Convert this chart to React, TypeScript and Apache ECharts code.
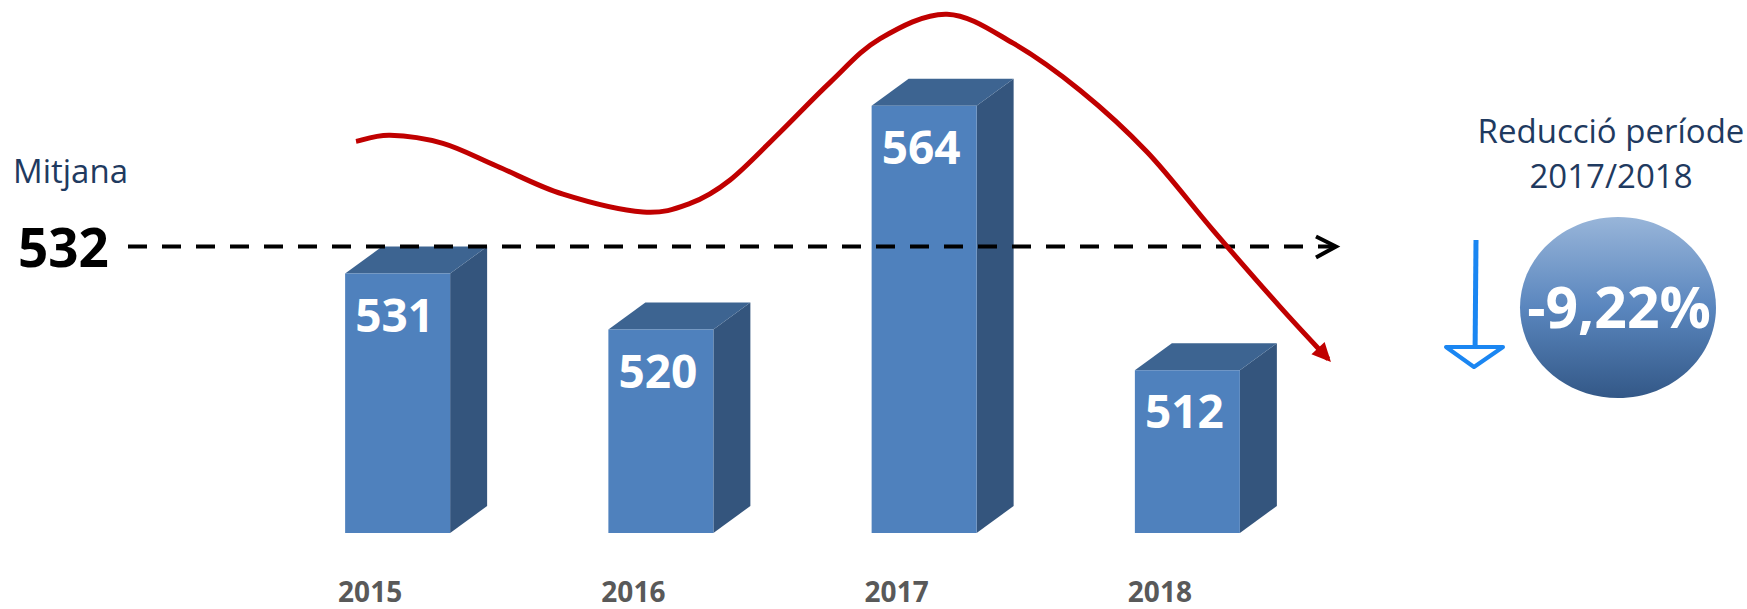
import React, { useEffect, useRef } from "react";
import * as echarts from "echarts";

const YEARS = ["2015", "2016", "2017", "2018"];
const VALUES = [531, 520, 564, 512];
// decorative trend curve (x in category-index units, y in value units)
const TREND_X = [-0.158, -0.029, 0.172, 0.378, 0.628, 0.932, 1.111, 1.263, 1.453, 1.643, 1.833, 2.087, 2.338, 2.593, 2.847, 3.098, 3.353, 3.535];
const TREND_Y = [557.0, 558.2, 556.6, 552.1, 546.6, 543.1, 544.8, 549.4, 558.8, 568.6, 577.2, 582.0, 576.3, 567.0, 554.9, 539.5, 524.4, 514.2];

const Y_MIN = 480;
const Y_MAX = 584;
const FONT = "'Open Sans', 'Noto Sans', sans-serif";

const MEAN = Math.round(VALUES.reduce((a, b) => a + b, 0) / VALUES.length);
const CHANGE = ((VALUES[3] - VALUES[2]) / VALUES[2]) * 100;
const CHANGE_LABEL = CHANGE.toFixed(2).replace(".", ",") + "%";

export default function App() {
  const ref = useRef<HTMLDivElement>(null);
  useEffect(() => {
    if (!ref.current) return;
    const chart = echarts.init(ref.current, null, { renderer: "svg" });
    const BW = 105;
    const DX = 37;
    const DY = 27;
    const option: any = {
      animation: false,
      backgroundColor: "#ffffff",
      grid: { left: 266, width: 1053, top: 4, bottom: 76 },
      xAxis: [
        {
          type: "category",
          data: YEARS,
          axisLine: { show: false },
          axisTick: { show: false },
          axisLabel: {
            margin: 44,
            fontSize: 28,
            lineHeight: 28,
            fontWeight: "bold",
            fontFamily: FONT,
            color: "#595959",
            padding: [0, 55, 0, 0],
          },
          splitLine: { show: false },
        },
        { type: "value", min: -0.5, max: 3.5, show: false },
      ],
      yAxis: { type: "value", min: Y_MIN, max: Y_MAX, show: false, splitLine: { show: false } },
      series: [
        {
          type: "custom",
          xAxisIndex: 0,
          yAxisIndex: 0,
          z: 2,
          data: VALUES.map((v, i) => [i, v]),
          renderItem: (params: any, api: any) => {
            const idx = api.value(0);
            const val = api.value(1);
            const top = api.coord([idx, val]);
            const base = api.coord([idx, Y_MIN]);
            const x0 = top[0] - BW / 2;
            const y0 = top[1];
            const y1 = base[1];
            return {
              type: "group",
              children: [
                {
                  type: "polygon",
                  shape: { points: [[x0 + BW, y0], [x0 + BW + DX, y0 - DY], [x0 + BW + DX, y1 - DY], [x0 + BW, y1]] },
                  style: { fill: "#34557D" },
                },
                {
                  type: "polygon",
                  shape: { points: [[x0, y0], [x0 + DX, y0 - DY], [x0 + BW + DX, y0 - DY], [x0 + BW, y0]] },
                  style: { fill: "#3D6491" },
                },
                {
                  type: "rect",
                  shape: { x: x0, y: y0, width: BW, height: y1 - y0 },
                  style: { fill: "#4F81BD" },
                },
                {
                  type: "text",
                  x: top[0] - 3,
                  y: y0 + 40,
                  style: {
                    text: String(val),
                    fill: "#ffffff",
                    fontSize: 46,
                    fontWeight: "bold",
                    fontFamily: FONT,
                    align: "center",
                    verticalAlign: "middle",
                  },
                },
              ],
            };
          },
        },
        {
          // trend curve: Catmull-Rom spline through the read points, with an arrowhead
          type: "custom",
          xAxisIndex: 1,
          yAxisIndex: 0,
          z: 10,
          clip: false,
          data: [[0, Y_MIN]],
          renderItem: (params: any, api: any) => {
            const P = TREND_X.map((x, i) => api.coord([x, TREND_Y[i]]));
            const n = P.length;
            let d = `M${P[0][0]},${P[0][1]}`;
            for (let i = 0; i < n - 1; i++) {
              const p0 = P[Math.max(0, i - 1)];
              const p1 = P[i];
              const p2 = P[i + 1];
              const p3 = P[Math.min(n - 1, i + 2)];
              const c1x = p1[0] + (p2[0] - p0[0]) / 6;
              const c1y = p1[1] + (p2[1] - p0[1]) / 6;
              const c2x = p2[0] - (p3[0] - p1[0]) / 6;
              const c2y = p2[1] - (p3[1] - p1[1]) / 6;
              d += ` C${c1x},${c1y} ${c2x},${c2y} ${p2[0]},${p2[1]}`;
            }
            const pA = P[n - 2];
            const pB = P[n - 1];
            const len = Math.hypot(pB[0] - pA[0], pB[1] - pA[1]);
            const ux = (pB[0] - pA[0]) / len;
            const uy = (pB[1] - pA[1]) / len;
            const tip = [pB[0] + ux * 4, pB[1] + uy * 4];
            const bc = [pB[0] - ux * 15, pB[1] - uy * 15];
            const hw = 9;
            return {
              type: "group",
              children: [
                {
                  type: "path",
                  shape: { pathData: d },
                  style: { stroke: "#C00000", lineWidth: 5, fill: "none" },
                },
                {
                  type: "polygon",
                  shape: {
                    points: [tip, [bc[0] - uy * hw, bc[1] + ux * hw], [bc[0] + uy * hw, bc[1] - ux * hw]],
                  },
                  style: { fill: "#C00000" },
                },
              ],
            };
          },
        },
      ],
    };
    chart.setOption(option);

    const meanY = chart.convertToPixel({ yAxisIndex: 0 }, MEAN) - 22;
    const lineEndX = 1336;
    chart.setOption({
      graphic: [
        {
          type: "text",
          z: 20,
          x: 13,
          y: 170,
          style: { text: "Mitjana", fontSize: 33, fontFamily: FONT, fill: "#1F3A60", align: "left", verticalAlign: "middle" },
        },
        {
          type: "text",
          x: 18,
          y: meanY,
          z: 20,
          style: { text: String(MEAN), fontSize: 53, fontWeight: "bold", fontFamily: FONT, fill: "#000000", align: "left", verticalAlign: "middle" },
        },
        {
          type: "line",
          z: 5,
          shape: { x1: 128, y1: meanY, x2: lineEndX - 2, y2: meanY },
          style: { stroke: "#000000", lineWidth: 4, lineDash: [19, 15] },
        },
        {
          type: "polyline",
          z: 5,
          shape: { points: [[lineEndX - 20, meanY - 10], [lineEndX, meanY], [lineEndX - 20, meanY + 11]] },
          style: { stroke: "#000000", lineWidth: 4, fill: "none" },
        },
        {
          type: "text",
          x: 1611,
          y: 130,
          z: 20,
          style: { text: "Reducció període", fontSize: 33, fontFamily: FONT, fill: "#1F3A60", align: "center", verticalAlign: "middle" },
        },
        {
          type: "text",
          x: 1611,
          y: 175,
          z: 20,
          style: { text: YEARS[2] + "/" + YEARS[3], fontSize: 33, fontFamily: FONT, fill: "#1F3A60", align: "center", verticalAlign: "middle" },
        },
        {
          type: "ellipse",
          z: 20,
          shape: { cx: 1618, cy: 307.5, rx: 98, ry: 90.5 },
          style: {
            fill: new echarts.graphic.LinearGradient(0, 0, 0, 1, [
              { offset: 0, color: "#98B5D9" },
              { offset: 0.5, color: "#5A86BE" },
              { offset: 1, color: "#335887" },
            ]),
          },
        },
        {
          type: "text",
          x: 1619,
          y: 306,
          z: 21,
          style: { text: CHANGE_LABEL, fontSize: 57, fontWeight: "bold", fontFamily: FONT, fill: "#ffffff", align: "center", verticalAlign: "middle" },
        },
        {
          type: "line",
          z: 20,
          shape: { x1: 1476, y1: 240, x2: 1475, y2: 360 },
          style: { stroke: "#1A86F2", lineWidth: 5 },
        },
        {
          type: "polygon",
          z: 20,
          shape: { points: [[1446, 347], [1503, 347], [1474, 367]] },
          style: { stroke: "#1A86F2", lineWidth: 4, fill: "#ffffff", lineJoin: "round" },
        },
      ],
    });

    return () => chart.dispose();
  }, []);
  return <div ref={ref} style={{ position: "absolute", left: 0, top: 0, width: 1747, height: 609 }} />;
}
